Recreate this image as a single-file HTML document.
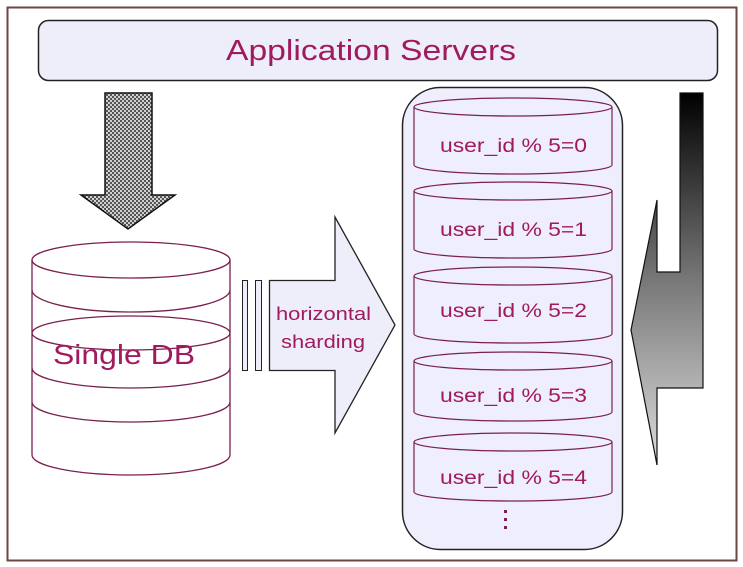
<!DOCTYPE html>
<html><head><meta charset="utf-8"><style>
html,body{margin:0;padding:0;background:#fff;width:743px;height:567px;overflow:hidden}
svg{display:block}
text{font-family:"Liberation Sans",sans-serif;fill:#a01a5e}
</style></head><body>
<svg width="743" height="567" viewBox="0 0 743 567" xmlns="http://www.w3.org/2000/svg">
<defs>
<pattern id="chk" width="4" height="4" patternUnits="userSpaceOnUse">
<rect width="4" height="4" fill="#d0d0d0"/><rect width="2" height="2" fill="#555"/><rect x="2" y="2" width="2" height="2" fill="#555"/>
</pattern>
<linearGradient id="gr" x1="0" y1="0" x2="0" y2="1">
<stop offset="0" stop-color="#000"/><stop offset="0.5" stop-color="#777"/><stop offset="1" stop-color="#ddd"/>
</linearGradient>
</defs>
<rect x="7.5" y="7.5" width="729" height="553" fill="#fff" stroke="#6b4a44" stroke-width="2"/>
<rect x="38.5" y="20.5" width="679" height="60" rx="10" fill="#eeeefa" stroke="#222" stroke-width="1.5"/>
<text x="226" y="60" font-size="29" textLength="290" lengthAdjust="spacingAndGlyphs">Application  Servers</text>

<!-- down arrow -->
<polygon points="105,93 152,93 152,195 175,195 128,229 81,195 105,195" fill="url(#chk)" stroke="#111" stroke-width="1.5"/>

<!-- single DB -->
<g fill="none" stroke="#7a2050" stroke-width="1.3">
<path d="M32,260 V455 A99,20 0 0 0 230,455 V260"/>
<ellipse cx="131" cy="260" rx="99" ry="18"/>
<path d="M32,290 A99,22 0 0 0 230,290"/>
<ellipse cx="131" cy="333" rx="99" ry="17"/>
<path d="M32,368 A99,20 0 0 0 230,368"/>
<path d="M32,402 A99,20 0 0 0 230,402"/>
</g>
<text x="53" y="364" font-size="28" textLength="142" lengthAdjust="spacingAndGlyphs">Single DB</text>

<!-- horizontal arrow -->
<rect x="242.5" y="280.5" width="5" height="90" fill="#eeeefa" stroke="#222"/>
<rect x="255.5" y="280.5" width="6" height="90" fill="#eeeefa" stroke="#222"/>
<polygon points="269.5,280.5 335,280.5 335,217 395,325 335,433 335,370.5 269.5,370.5" fill="#eeeefa" stroke="#222" stroke-width="1.3"/>
<text x="276" y="320" font-size="18" textLength="95" lengthAdjust="spacingAndGlyphs">horizontal</text>
<text x="281" y="348" font-size="18" textLength="84" lengthAdjust="spacingAndGlyphs">sharding</text>

<!-- shards container -->
<rect x="402.5" y="87.5" width="220" height="462" rx="38" fill="#eeeefc" stroke="#222" stroke-width="1.5"/>
<g fill="none" stroke="#7a2050" stroke-width="1.2">
<path d="M414,107 V165 A99,9 0 0 0 612,165 V107"/><ellipse cx="513" cy="107" rx="99" ry="9"/>
<path d="M414,191 V249 A99,9 0 0 0 612,249 V191"/><ellipse cx="513" cy="191" rx="99" ry="9"/>
<path d="M414,276 V334 A99,9 0 0 0 612,334 V276"/><ellipse cx="513" cy="276" rx="99" ry="9"/>
<path d="M414,361 V412 A99,9 0 0 0 612,412 V361"/><ellipse cx="513" cy="361" rx="99" ry="9"/>
<path d="M414,442 V492 A99,9 0 0 0 612,492 V442"/><ellipse cx="513" cy="442" rx="99" ry="9"/>
</g>
<g font-size="19">
<text x="440" y="152" textLength="147" lengthAdjust="spacingAndGlyphs">user_id % 5=0</text>
<text x="440" y="236" textLength="147" lengthAdjust="spacingAndGlyphs">user_id % 5=1</text>
<text x="440" y="317" textLength="147" lengthAdjust="spacingAndGlyphs">user_id % 5=2</text>
<text x="440" y="402" textLength="147" lengthAdjust="spacingAndGlyphs">user_id % 5=3</text>
<text x="440" y="484" textLength="147" lengthAdjust="spacingAndGlyphs">user_id % 5=4</text>
</g>
<g fill="#7a2050"><rect x="504" y="510" width="3" height="3"/><rect x="504" y="518" width="3" height="3"/><rect x="504" y="526" width="3" height="3"/></g>

<!-- right arrow -->
<polygon points="680,93 703,93 703,388 657,388 657,465 631,330 657,200 657,272 680,272" fill="url(#gr)" stroke="#111" stroke-width="1.2"/>
</svg>
</body></html>
